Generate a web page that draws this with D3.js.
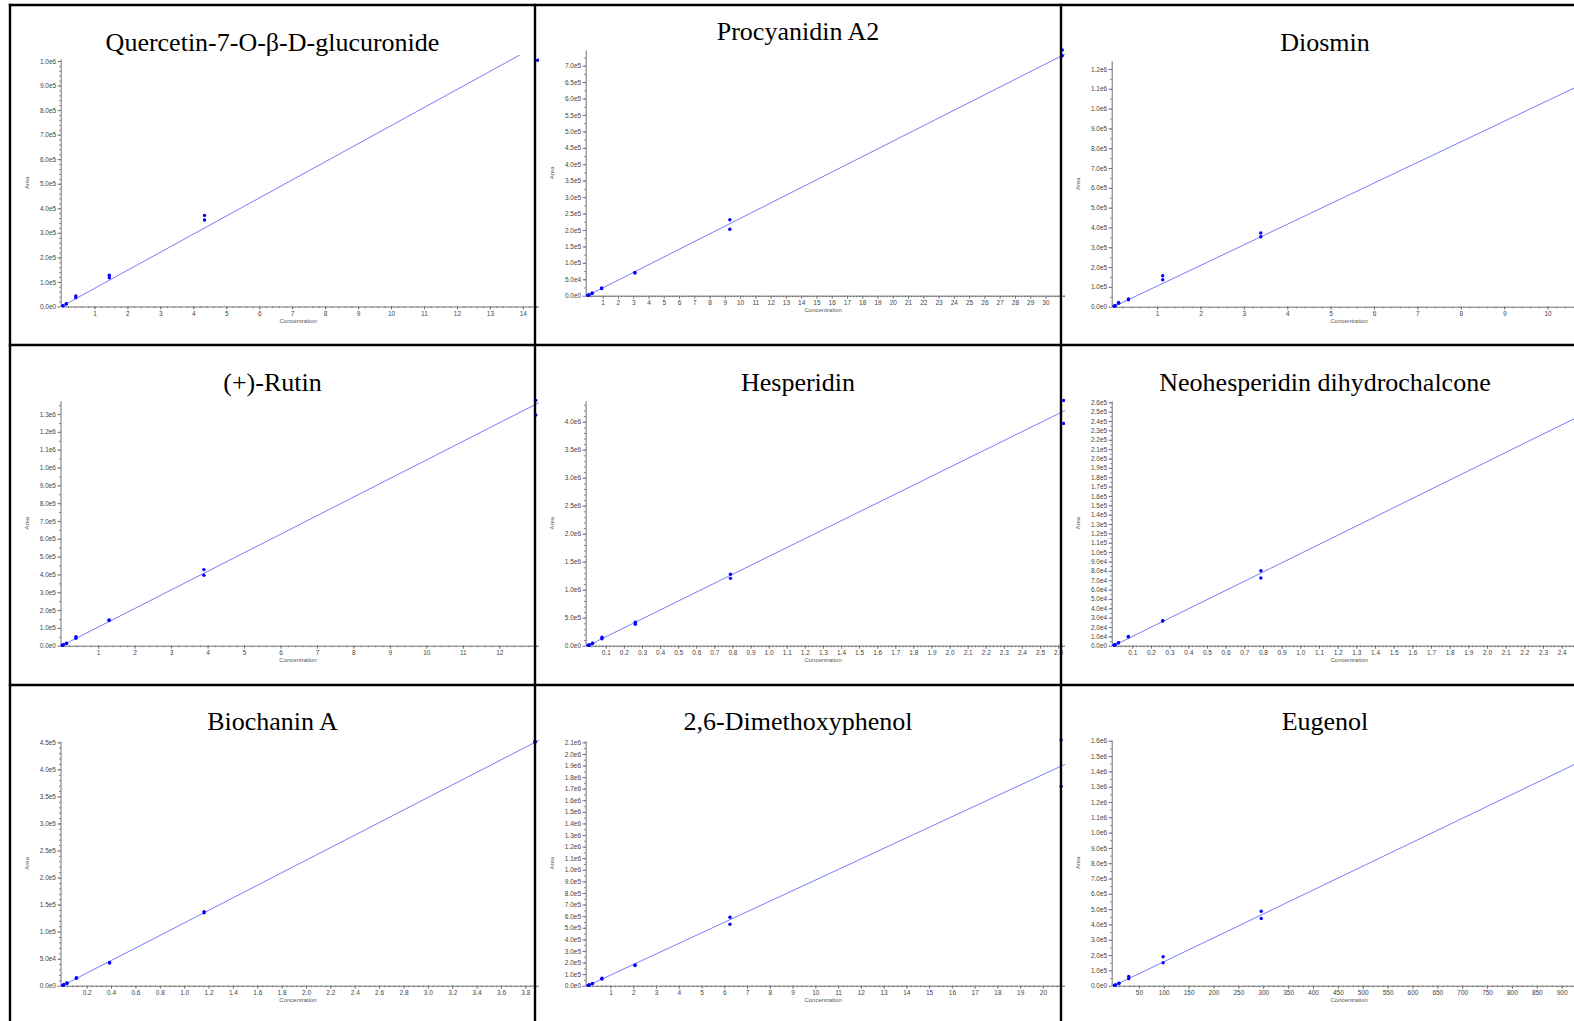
<!DOCTYPE html>
<html>
<head>
<meta charset="utf-8">
<script src="https://cdn.jsdelivr.net/npm/d3@7"></script>
<style>
  body { margin: 0; background: #fff; }
  svg { display: block; background: #fff; }
  .axis .tick text { font-family: "Liberation Sans", Arial, sans-serif; font-size: 6.5px; fill: #444; }
  .axis path, .axis line { stroke: #707070; }
  .axis-title { font-family: "Liberation Sans", Arial, sans-serif; font-size: 6px; fill: #555; }
  .title { font-family: "Liberation Serif", "Times New Roman", serif; font-size: 26px; fill: #000; }
</style>
</head>
<body>
<svg id="chart" width="1574" height="1021"></svg>
<script>
const titles = [
  'Quercetin-7-O-β-D-glucuronide', 'Procyanidin A2', 'Diosmin',
  '(+)-Rutin', 'Hesperidin', 'Neohesperidin dihydrochalcone',
  'Biochanin A', '2,6-Dimethoxyphenol', 'Eugenol'
];

// calibration points (two replicates per level)
const quercetinConc = [0.0434, 0.0434, 0.145, 0.145, 0.434, 0.434, 1.45, 1.45, 4.34, 4.34, 14.45];
const quercetinArea = [2.5e3, 3.5e3, 1.0e4, 1.1e4, 3.6e4, 4.3e4, 1.17e5, 1.27e5, 3.52e5, 3.71e5, 1.003e6];
const procyanidinConc = [0.0311, 0.0311, 0.0933, 0.0933, 0.311, 0.311, 0.933, 0.933, 3.11, 3.11, 9.33, 9.33, 31.1, 31.1];
const procyanidinArea = [700, 900, 2.2e3, 2.6e3, 7.0e3, 8.0e3, 2.15e4, 2.35e4, 6.9e4, 7.1e4, 2.02e5, 2.31e5, 7.30e5, 7.48e5];
const diosminConc = [0.0113, 0.0113, 0.0339, 0.0339, 0.113, 0.113, 0.339, 0.339, 1.13, 1.13, 3.39, 3.39];
const diosminArea = [1.5e3, 2e3, 4.5e3, 5.5e3, 1.7e4, 2.1e4, 3.5e4, 3.9e4, 1.36e5, 1.56e5, 3.53e5, 3.72e5];
const rutinConc = [0.013, 0.013, 0.039, 0.039, 0.13, 0.13, 0.39, 0.39, 1.3, 1.3, 3.9, 3.9, 13.0, 13.0];
const rutinArea = [1.3e3, 1.6e3, 4e3, 5e3, 1.2e4, 1.4e4, 4.2e4, 5.0e4, 1.42e5, 1.44e5, 3.95e5, 4.27e5, 1.295e6, 1.377e6];
const hesperidinConc = [0.00263, 0.00263, 0.00789, 0.00789, 0.0263, 0.0263, 0.0789, 0.0789, 0.263, 0.263, 0.789, 0.789, 2.63, 2.63];
const hesperidinArea = [4e3, 5e3, 1.3e4, 1.4e4, 4.0e4, 4.4e4, 1.25e5, 1.5e5, 3.82e5, 4.18e5, 1.203e6, 1.275e6, 3.97e6, 4.38e6];
const neohesperidinConc = [0.00263, 0.00263, 0.00789, 0.00789, 0.0263, 0.0263, 0.0789, 0.0789, 0.263, 0.263, 0.789, 0.789];
const neohesperidinArea = [400, 500, 1.0e3, 1.3e3, 3.0e3, 3.3e3, 9.4e3, 9.8e3, 2.64e4, 2.67e4, 7.23e4, 8.01e4];
const biochaninConc = [0.00388, 0.00388, 0.0116, 0.0116, 0.0388, 0.0388, 0.116, 0.116, 0.388, 0.388, 1.164, 1.164, 3.88, 3.88];
const biochaninArea = [500, 600, 1.5e3, 1.7e3, 4.6e3, 4.9e3, 1.37e4, 1.48e4, 4.2e4, 4.3e4, 1.35e5, 1.37e5, 4.50e5, 4.52e5];
const dimethoxyConc = [0.0208, 0.0208, 0.0625, 0.0625, 0.208, 0.208, 0.625, 0.625, 2.08, 2.08, 6.25, 6.25, 20.8, 20.8];
const dimethoxyArea = [2e3, 2.5e3, 5.5e3, 6.5e3, 1.8e4, 2.0e4, 5.8e4, 6.4e4, 1.74e5, 1.78e5, 5.3e5, 5.9e5, 1.72e6, 2.12e6];
const eugenolConc = [0.987, 0.987, 2.96, 2.96, 9.87, 9.87, 29.6, 29.6, 98.7, 98.7, 296, 296];
const eugenolArea = [1.5e3, 2e3, 4.5e3, 5e3, 1.5e4, 1.7e4, 4.6e4, 6.0e4, 1.50e5, 1.89e5, 4.39e5, 4.86e5];

const concs = [quercetinConc, procyanidinConc, diosminConc, rutinConc, hesperidinConc,
  neohesperidinConc, biochaninConc, dimethoxyConc, eugenolConc];
const areas = [quercetinArea, procyanidinArea, diosminArea, rutinArea, hesperidinArea,
  neohesperidinArea, biochaninArea, dimethoxyArea, eugenolArea];

// fitted lines, area = slope * conc
const slopes = [73650, 23500, 104000, 104200, 1592000, 98300, 116000, 91100, 1561];

// axis extents and ticks
const xExtent = [14.49, 31.28, 11.07, 13.09, 2.638, 2.573, 3.912, 20.97, 965];
const yExtent = [1.008e6, 7.477e5, 1.2418e6, 1.3749e6, 4.375e6, 2.6175e5, 4.525e5, 2.114e6, 1.605e6];
const xTickStep = [1, 1, 1, 1, 0.1, 0.1, 0.2, 1, 50];
const xTickCount = [14, 30, 11, 12, 26, 25, 19, 20, 19];
const xDecimals = [0, 0, 0, 0, 1, 1, 1, 0, 0];
const yTickStep = [1e5, 5e4, 1e5, 1e5, 5e5, 1e4, 5e4, 1e5, 1e5];
const yTickCount = [10, 14, 12, 13, 8, 26, 9, 21, 16];

// layout of the 3x3 table
const colEdges = [10, 535, 1061, 1590];
const rowEdges = [5, 345, 685, 1025];
const titleX = [272.5, 798, 1325];
const titleY = [51, 40, 51, 391, 391, 391, 730, 730, 730];
const axisX = [60.7, 585.7, 1111.7, 60.5, 585.6, 1111.7, 60.5, 585.6, 1111.7];
const originX = [61.5, 587.4, 1113.7, 61.7, 587.7, 1113.6, 62.3, 587.7, 1114];
const zeroY = [306.5, 295.7, 306.7, 645.7, 645.7, 645.7, 985.7, 985.7, 985.7];
const topY = [59, 50, 60.7, 400.7, 400.7, 400.7, 741, 740.7, 740];

const svg = d3.select('#chart');
const defs = svg.append('defs');
const yFmt = v => v === 0 ? '0.0e0' : d3.format('.1e')(v).replace('+', '');

titles.forEach((title, i) => {
  const col = i % 3;
  const row = Math.floor(i / 3);
  const cellL = colEdges[col];
  const cellR = colEdges[col + 1];
  const cellT = rowEdges[row];
  const cellB = rowEdges[row + 1];
  const right = cellR + 4;

  defs.append('clipPath').attr('id', `cell-${i}`)
    .append('rect').attr('x', cellL).attr('y', cellT).attr('width', right - cellL).attr('height', cellB - cellT);
  defs.append('clipPath').attr('id', `plot-${i}`)
    .append('rect').attr('x', axisX[i]).attr('y', topY[i] - 4)
    .attr('width', right - axisX[i]).attr('height', zeroY[i] - topY[i] + 5);

  const g = svg.append('g').attr('clip-path', `url(#cell-${i})`);

  const x = d3.scaleLinear().domain([0, xExtent[i]]).range([originX[i], right]);
  const y = d3.scaleLinear().domain([0, yExtent[i]]).range([zeroY[i], topY[i]]);

  g.append('text').attr('class', 'title')
    .attr('x', titleX[col]).attr('y', titleY[i])
    .attr('text-anchor', 'middle').text(title);

  // minor ticks
  const xMajorPx = x(xTickStep[i]) - x(0);
  const xMinorStep = xTickStep[i] / (xMajorPx >= 14 ? 5 : 2);
  const xMinor = d3.range(1, Math.floor(xExtent[i] / xMinorStep) + 1).map(k => k * xMinorStep);
  const yMajorPx = y(0) - y(yTickStep[i]);
  const yMinorStep = yTickStep[i] / (yMajorPx >= 20 ? 5 : 2);
  const yMinor = d3.range(1, Math.floor(yExtent[i] / yMinorStep) + 1).map(k => k * yMinorStep);

  g.append('g').attr('class', 'axis')
    .attr('transform', `translate(0,${zeroY[i]})`)
    .call(d3.axisBottom(x).tickValues(xMinor).tickSize(1.5).tickFormat(''))
    .call(a => a.select('.domain').remove());
  g.append('g').attr('class', 'axis')
    .attr('transform', `translate(${axisX[i]},0)`)
    .call(d3.axisLeft(y).tickValues(yMinor).tickSize(1.5).tickFormat(''))
    .call(a => a.select('.domain').remove());

  const xTicks = d3.range(1, xTickCount[i] + 1).map(k => k * xTickStep[i]);
  const yTicks = d3.range(0, yTickCount[i] + 1).map(k => k * yTickStep[i]);

  g.append('g').attr('class', 'axis')
    .attr('transform', `translate(0,${zeroY[i]})`)
    .call(d3.axisBottom(x).tickValues(xTicks).tickSize(3).tickSizeOuter(0).tickPadding(1.5)
      .tickFormat(d3.format(`.${xDecimals[i]}f`)));
  g.append('g').attr('class', 'axis')
    .attr('transform', `translate(${axisX[i]},0)`)
    .call(d3.axisLeft(y).tickValues(yTicks).tickSize(3).tickSizeOuter(0).tickPadding(1.5)
      .tickFormat(yFmt));

  g.append('text').attr('class', 'axis-title')
    .attr('x', axisX[i] + 237.5).attr('y', zeroY[i] + 16.5)
    .attr('text-anchor', 'middle').text('Concentration');
  g.append('text').attr('class', 'axis-title')
    .attr('transform', `translate(${axisX[i] - 34},${(zeroY[i] + topY[i]) / 2}) rotate(-90)`)
    .attr('text-anchor', 'middle').attr('dominant-baseline', 'central').text('Area');

  const plot = g.append('g').attr('clip-path', `url(#plot-${i})`);
  const fit = [0, xExtent[i]].map(c => ({ c, a: slopes[i] * c }));
  plot.append('path')
    .datum(fit)
    .attr('fill', 'none')
    .attr('stroke', '#7b7bff')
    .attr('stroke-width', 1)
    .attr('d', d3.line().x(p => x(p.c)).y(p => y(p.a)));

  plot.selectAll('circle')
    .data(concs[i].map((c, k) => ({ c, a: areas[i][k] })))
    .join('circle')
    .attr('cx', p => x(p.c))
    .attr('cy', p => y(p.a))
    .attr('r', 1.7)
    .attr('fill', '#0000ff');
});

// table borders
const border = svg.append('g').attr('stroke', '#000').attr('stroke-width', 2.4);
colEdges.slice(0, 3).forEach(cx => {
  border.append('line').attr('x1', cx).attr('x2', cx).attr('y1', rowEdges[0] - 1.2).attr('y2', 1021);
});
rowEdges.slice(0, 3).forEach(ry => {
  border.append('line').attr('x1', colEdges[0] - 1.2).attr('x2', 1574).attr('y1', ry).attr('y2', ry);
});
</script>
</body>
</html>
